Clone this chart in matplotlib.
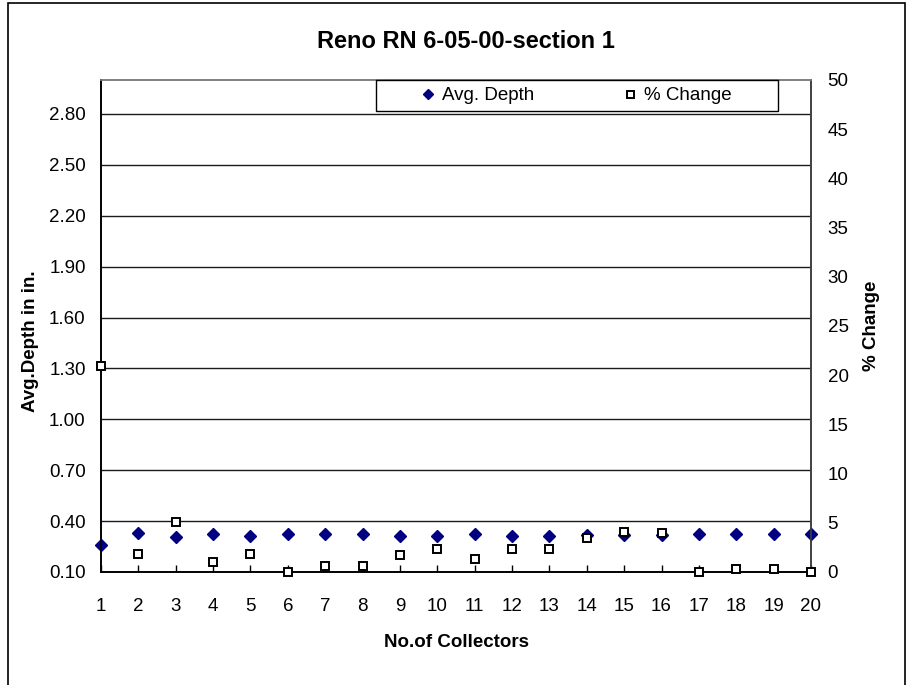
import matplotlib
matplotlib.use("Agg")
import matplotlib.pyplot as plt
from matplotlib.patches import Rectangle
from matplotlib.ticker import FormatStrFormatter, MultipleLocator

plt.rcParams['font.family'] = ['Liberation Sans', 'DejaVu Sans']

# Collector numbers, average depth (in.) and percent change
collectors = list(range(1, 21))
avg_depth = [0.26, 0.33, 0.305, 0.325, 0.315, 0.325, 0.325, 0.325, 0.315, 0.315,
             0.325, 0.315, 0.315, 0.32, 0.32, 0.32, 0.325, 0.325, 0.325, 0.325]
pct_change = [20.9, 1.8, 5.1, 1.0, 1.8, 0.0, 0.6, 0.6, 1.7, 2.3,
              1.3, 2.3, 2.3, 3.5, 4.1, 4.0, 0.0, 0.3, 0.3, 0.0]
depth_ticks = [0.10, 0.40, 0.70, 1.00, 1.30, 1.60, 1.90, 2.20, 2.50, 2.80]

W, H = 912, 685
fig = plt.figure(figsize=(W / 100, H / 100), dpi=100)

def px_box(x0, y0, x1, y1):
    """Convert a pixel box (top-left origin) to figure fractions."""
    return [x0 / W, 1 - y1 / H, (x1 - x0) / W, (y1 - y0) / H]

ax = fig.add_axes(px_box(101, 80, 811, 572))
ax2 = ax.twinx()

fs = 13.5
# left axis: average depth
ax.set_xlim(1, 20)
ax.set_ylim(0.1, 3.0)
ax.set_yticks(depth_ticks)
ax.yaxis.set_major_formatter(FormatStrFormatter('%.2f'))
ax.set_xticks(collectors)
ax.grid(axis='y', color='#1a1a1a', lw=1.0)
ax.set_axisbelow(True)
ax.tick_params(axis='y', length=0, pad=11, labelsize=fs)
ax.tick_params(axis='x', direction='in', length=5, width=1, pad=19, labelsize=fs)

ax.plot(collectors, avg_depth, linestyle='none', marker='D', ms=6.4,
        color='#000080', mec='#000080', clip_on=False, zorder=3,
        label='Avg. Depth')

# right axis: percent change
ax2.set_ylim(0, 50)
ax2.yaxis.set_major_locator(MultipleLocator(5))
ax2.tick_params(axis='y', length=0, pad=12, labelsize=fs)
ax2.plot(collectors, pct_change, linestyle='none', marker='s', ms=6.3,
         mfc='white', mec='black', mew=1.4, clip_on=False, zorder=4,
         label='% Change')

for a in (ax, ax2):
    a.spines['left'].set_color('black')
    a.spines['bottom'].set_color('black')
    a.spines['top'].set_color('#808080')
    a.spines['right'].set_color('#404040')
    for s in a.spines.values():
        s.set_linewidth(1.2)

ax.set_ylabel('Avg.Depth in in.', fontsize=fs, fontweight='bold')
ax.yaxis.set_label_coords(-0.088, 0.47)
ax2.set_ylabel('% Change', fontsize=fs, fontweight='bold')
ax2.yaxis.set_label_coords(1.073, 0.50)
ax.set_xlabel('No.of Collectors', fontsize=fs, fontweight='bold')
ax.xaxis.set_label_coords(0.5, -0.126)

fig.text(466 / W, 1 - 42 / H, 'Reno RN 6-05-00-section 1', fontsize=17,
         fontweight='bold', ha='center', va='center')

# legend box
lb = px_box(376, 80, 778, 111)
fig.patches.append(Rectangle((lb[0], lb[1]), lb[2], lb[3], transform=fig.transFigure,
                             facecolor='white', edgecolor='black', lw=1.0, zorder=2))
h1, l1 = ax.get_legend_handles_labels()
h2, l2 = ax2.get_legend_handles_labels()
leg = fig.legend(h1 + h2, l1 + l2, ncol=2, frameon=False, fontsize=fs,
                 loc='center', bbox_to_anchor=((376 + 778) / 2 / W, 1 - 95.5 / H),
                 handlelength=0.6, handletextpad=0.4, columnspacing=4.85,
                 markerscale=0.8)

# outer chart border
ob = px_box(8, 3, 905, 700)
fig.patches.append(Rectangle((ob[0], ob[1]), ob[2], ob[3], transform=fig.transFigure,
                             facecolor='none', edgecolor='black', lw=1.2, zorder=1))

fig.savefig('out.png', dpi=100)
